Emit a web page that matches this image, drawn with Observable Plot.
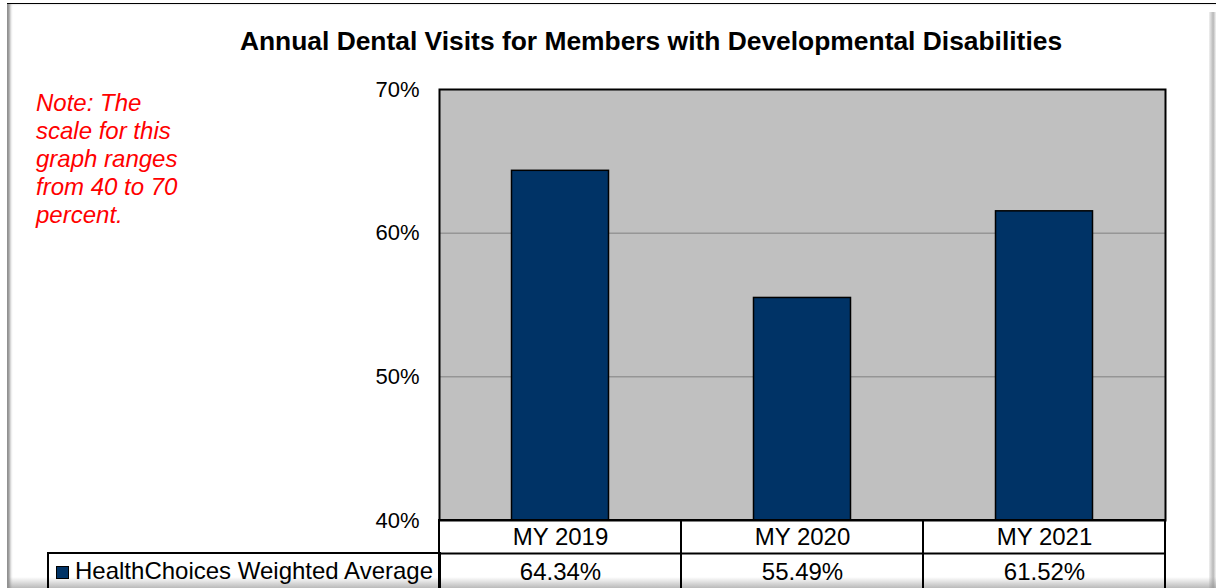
<!DOCTYPE html>
<html>
<head>
<meta charset="utf-8">
<script src="https://cdn.jsdelivr.net/npm/d3@7"></script>
<script src="https://cdn.jsdelivr.net/npm/@observablehq/plot@0.6"></script>
<style>
  html, body { margin: 0; padding: 0; background: #fff; }
  #wrap { position: relative; width: 1216px; height: 588px; overflow: hidden; font-family: "Liberation Sans", Arial, sans-serif; }
  #bg { position: absolute; left: 7px; top: 3px; width: 1220px; height: 600px; border-top: 1px solid #000;
        box-shadow: inset 4px 0 3px -1px rgba(0,0,0,0.45); }
  #rshadow { position: absolute; left: 1209px; top: 12px; width: 7px; height: 580px;
        background: linear-gradient(to right, #f0f0f0, #b8b8b8 60%, #f4f4f4); }
  #bshadow { position: absolute; left: 8px; top: 577px; width: 1208px; height: 11px;
        background: linear-gradient(to bottom, rgba(255,255,255,0), rgba(140,140,140,0.6)); }
  #chart { position: absolute; left: 0; top: 0; }
  #title { position: absolute; left: 0; top: 26px; width: 1302px; text-align: center; font-weight: bold; font-size: 26.4px; color: #000; white-space: nowrap; }
  #note { position: absolute; left: 36px; top: 89px; width: 200px; font-style: italic; font-size: 24px; line-height: 28px; color: #ff0000; white-space: nowrap; }
  #legend { position: absolute; left: 47px; top: 552px; width: 390px; height: 40px; border: 2px solid #000; border-bottom: none; }
  #legend .sw { position: absolute; left: 7px; top: 12px; width: 11px; height: 11px; background: #003366; border: 1px solid #000; }
  #legend .lab { position: absolute; left: 26px; top: 3px; font-size: 24px; white-space: nowrap; }
</style>
</head>
<body>
<div id="wrap">
  <div id="bg"></div>
  <div id="rshadow"></div>
  <div id="bshadow"></div>
  <div id="chart"></div>
  <div id="title">Annual Dental Visits for Members with Developmental Disabilities</div>
  <div id="note">Note: The<br>scale for this<br>graph ranges<br>from 40 to 70<br>percent.</div>
  <div id="legend"><div class="sw"></div><div class="lab" id="seriesName"></div></div>
</div>
<script>
const categories = ["MY 2019", "MY 2020", "MY 2021"];
const values = [64.34, 55.49, 61.52];
const seriesName = "HealthChoices Weighted Average";
const yTicks = [40, 50, 60, 70];
const gridValues = [50, 60];

const data = categories.map((c, i) => ({cat: c, value: values[i], label: values[i].toFixed(2) + "%"}));
document.getElementById("seriesName").textContent = seriesName;

const chart = Plot.plot({
  width: 1216,
  height: 588,
  marginLeft: 439,
  marginRight: 51,
  marginTop: 89,
  marginBottom: 68,
  style: {background: "transparent", overflow: "visible", fontFamily: "Liberation Sans, Arial, sans-serif", fontSize: "22px", color: "#000"},
  x: {domain: categories, padding: 0, axis: null},
  y: {domain: [40, 70], axis: null},
  marks: [
    Plot.frame({fill: "#c0c0c0"}),
    Plot.ruleY(gridValues, {stroke: "#808080", strokeWidth: 1}),
    Plot.barY(data, {x: "cat", y1: 40, y2: "value", fill: "#003366", stroke: "#000", strokeWidth: 1.5, insetLeft: 72.5, insetRight: 72.5}),
    Plot.frame({stroke: "#000", strokeWidth: 2}),
    Plot.axisY({ticks: yTicks, tickFormat: d => d + "%", tickSize: 0, tickPadding: 20, fontSize: 22, label: null}),
    Plot.barY(data, {x: "cat", y1: 40, y2: 40, insetBottom: -72, fill: "none", stroke: "#000", strokeWidth: 2}),
    Plot.ruleY([40], {dy: 33, stroke: "#000", strokeWidth: 2}),
    Plot.text(data, {x: "cat", y: 40, text: "cat", dy: 17, fontSize: 24, fill: "#000"}),
    Plot.text(data, {x: "cat", y: 40, text: "label", dy: 52, fontSize: 24, fill: "#000"})
  ]
});
document.getElementById("chart").appendChild(chart);
</script>
</body>
</html>
